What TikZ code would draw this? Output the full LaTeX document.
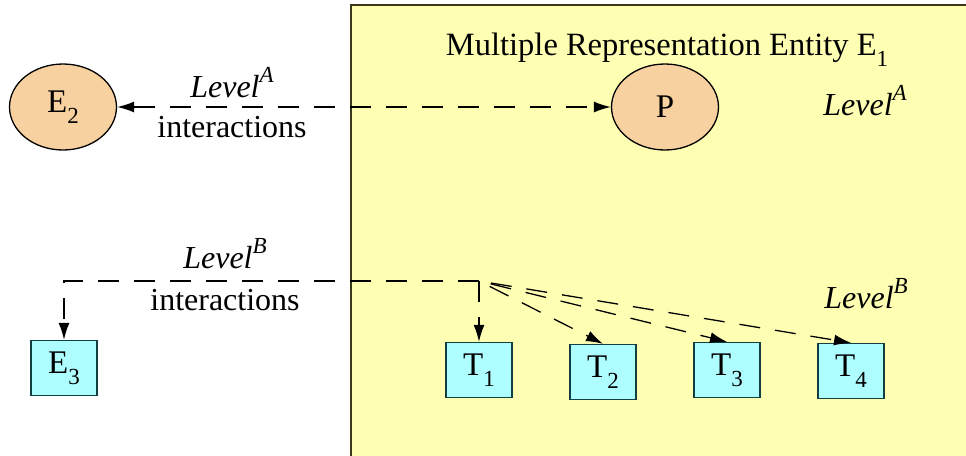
\documentclass[tikz,border=0pt]{standalone}
\usepackage{fontspec}
\setmainfont{Liberation Serif}
\newfontfamily\tnr{Liberation Serif}
\usetikzlibrary{arrows.meta,shapes.geometric}
\definecolor{yellowbg}{HTML}{FFFFB4}
\definecolor{boxedge}{HTML}{3A3A1A}
\definecolor{peach}{HTML}{F8D1A0}
\definecolor{cyanfill}{HTML}{AEFDFF}
\definecolor{cyanedge}{HTML}{123F3F}
\newcommand{\mysup}[1]{\raisebox{0.45em}{\fontsize{23}{23}\selectfont #1}}
\newcommand{\mysub}[1]{\raisebox{-0.34em}{\fontsize{23}{23}\selectfont #1}}
\begin{document}
\begin{tikzpicture}[x=1pt,y=-1pt,
  ell/.style={ellipse,draw=black,line width=1.3pt,fill=peach,minimum width=107pt,minimum height=86pt,inner sep=0pt,font=\tnr\fontsize{33}{38}\selectfont},
  sq/.style={rectangle,draw=cyanedge,line width=1.3pt,fill=cyanfill,minimum width=66pt,minimum height=55pt,inner sep=0pt,font=\tnr\fontsize{33}{38}\selectfont},
  lab/.style={anchor=base,inner sep=0pt,font=\tnr\fontsize{32}{37}\selectfont},
  dl/.style={line width=1.3pt,dash pattern=on 21pt off 15pt},
  tip/.style={-{Latex[length=17pt,width=11pt]}}
]
\useasboundingbox (0,0) rectangle (966,455);
% yellow entity region
\fill[yellowbg] (351,5) rectangle (975,465);
\draw[line width=1.3pt,draw=boxedge] (975,5) -- (351,5) -- (351,465);
\node[lab,font=\tnr\fontsize{32.5}{37}\selectfont] (title) at (667,55) {Multiple Representation Entity E\mysub{1}};
% nodes
\node[ell] (E2) at (63,107) {E\mysub{2}};
\node[ell] (P) at (665,107) {P};
\node[sq] (E3) at (64,368) {E\mysub{3}};
\node[sq] (T1) at (479,370) {T\mysub{1}};
\node[sq] (T2) at (603,372) {T\mysub{2}};
\node[sq] (T3) at (727,370) {T\mysub{3}};
\node[sq] (T4) at (851,371) {T\mysub{4}};
% labels
\node[lab] (laA) at (232,97) {\itshape Level\mysup{A}};
\node[lab] (iA) at (232,137) {interactions};
\node[lab] (laB) at (225,268) {\itshape Level\mysup{B}};
\node[lab] (iB) at (225,310) {interactions};
\node[lab] (rA) at (865,115) {\itshape Level\mysup{A}};
\node[lab] (rB) at (866,308) {\itshape Level\mysup{B}};
% connectors
\draw[dl,{Latex[length=17pt,width=11pt]}-{Latex[length=17pt,width=11pt]}] (E2) -- (P);
\coordinate (hub) at (479,281);
\draw[dl,tip] (hub) -| (E3.north);
\draw[dl,tip] (hub) -- (T1.north);
\draw[dl,tip,dash phase=24pt] (hub) -- (T2.north);
\draw[dl,tip,dash phase=24pt] (hub) -- (T3.north);
\draw[dl,tip,dash phase=24pt] (hub) -- (T4.north);
\end{tikzpicture}
\end{document}
